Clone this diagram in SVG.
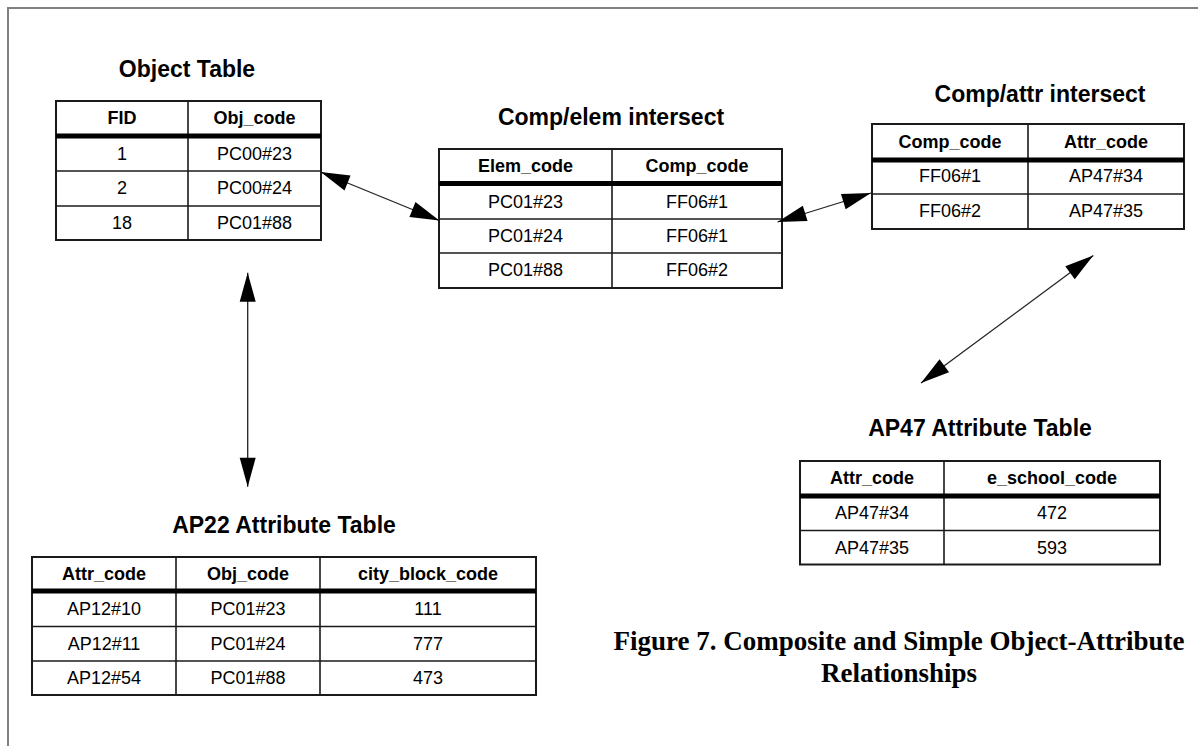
<svg xmlns="http://www.w3.org/2000/svg" width="1198" height="746" viewBox="0 0 1198 746">
<defs>
<style>
.frame{stroke:#808080;stroke-width:2;fill:none}
.tb{fill:#fff;stroke:#1a1a1a;stroke-width:2}
.ln{stroke:#1a1a1a;stroke-width:1.6}
.thick{stroke:#000;stroke-width:5}
.title{font-family:"Liberation Sans",Arial,sans-serif;font-weight:bold;font-size:23px;text-anchor:middle;fill:#000}
.th{font-family:"Liberation Sans",Arial,sans-serif;font-weight:bold;font-size:18px;text-anchor:middle;fill:#000}
.td{font-family:"Liberation Sans",Arial,sans-serif;font-size:18px;text-anchor:middle;fill:#000}
.cap{font-family:"Liberation Serif","Times New Roman",serif;font-weight:bold;font-size:27px;text-anchor:middle;fill:#000}
.conn{stroke:#222;stroke-width:1.3;fill:none;marker-start:url(#ah);marker-end:url(#ah)}
</style>
<marker id="ah" markerUnits="userSpaceOnUse" viewBox="0 0 30 16" markerWidth="30" markerHeight="16" refX="29" refY="8" orient="auto-start-reverse" overflow="visible">
<path d="M0,0 L29,8 L0,16 Z" fill="#000"/>
</marker>
</defs>
<rect width="1198" height="746" fill="#fff"/>
<path class="frame" d="M8,746 V8 H1198"/>

<g id="object-table">
<text class="title" x="187" y="77">Object Table</text>
<rect class="tb" x="56" y="101" width="265" height="139"/>
<line class="ln" x1="188" y1="101" x2="188" y2="240"/>
<line class="ln" x1="56" y1="171" x2="321" y2="171"/>
<line class="ln" x1="56" y1="206" x2="321" y2="206"/>
<line class="thick" x1="56" y1="136" x2="321" y2="136"/>
<text class="th" x="122" y="124">FID</text>
<text class="th" x="254.5" y="124">Obj_code</text>
<text class="td" x="122" y="159.5">1</text>
<text class="td" x="254.5" y="159.5">PC00#23</text>
<text class="td" x="122" y="194">2</text>
<text class="td" x="254.5" y="194">PC00#24</text>
<text class="td" x="122" y="228.5">18</text>
<text class="td" x="254.5" y="228.5">PC01#88</text>
</g>

<g id="comp-elem-intersect">
<text class="title" x="611" y="125">Comp/elem intersect</text>
<rect class="tb" x="439" y="149" width="343" height="139"/>
<line class="ln" x1="612" y1="149" x2="612" y2="288"/>
<line class="ln" x1="439" y1="219" x2="782" y2="219"/>
<line class="ln" x1="439" y1="253" x2="782" y2="253"/>
<line class="thick" x1="439" y1="183.5" x2="782" y2="183.5"/>
<text class="th" x="525.5" y="172">Elem_code</text>
<text class="th" x="697" y="172">Comp_code</text>
<text class="td" x="525.5" y="207.5">PC01#23</text>
<text class="td" x="697" y="207.5">FF06#1</text>
<text class="td" x="525.5" y="241.5">PC01#24</text>
<text class="td" x="697" y="241.5">FF06#1</text>
<text class="td" x="525.5" y="275.5">PC01#88</text>
<text class="td" x="697" y="275.5">FF06#2</text>
</g>

<g id="comp-attr-intersect">
<text class="title" x="1040" y="101.5">Comp/attr intersect</text>
<rect class="tb" x="872" y="124" width="312" height="105"/>
<line class="ln" x1="1028" y1="124" x2="1028" y2="229"/>
<line class="ln" x1="872" y1="194" x2="1184" y2="194"/>
<line class="thick" x1="872" y1="160" x2="1184" y2="160"/>
<text class="th" x="950" y="147.5">Comp_code</text>
<text class="th" x="1106" y="147.5">Attr_code</text>
<text class="td" x="950" y="182">FF06#1</text>
<text class="td" x="1106" y="182">AP47#34</text>
<text class="td" x="950" y="216.5">FF06#2</text>
<text class="td" x="1106" y="216.5">AP47#35</text>
</g>

<g id="ap47-attribute-table">
<text class="title" x="980" y="436">AP47 Attribute Table</text>
<rect class="tb" x="800" y="461" width="360" height="103.5"/>
<line class="ln" x1="944" y1="461" x2="944" y2="564.5"/>
<line class="ln" x1="800" y1="530.5" x2="1160" y2="530.5"/>
<line class="thick" x1="800" y1="496" x2="1160" y2="496"/>
<text class="th" x="872" y="483.5">Attr_code</text>
<text class="th" x="1052" y="483.5">e_school_code</text>
<text class="td" x="872" y="519">AP47#34</text>
<text class="td" x="1052" y="519">472</text>
<text class="td" x="872" y="554">AP47#35</text>
<text class="td" x="1052" y="554">593</text>
</g>

<g id="ap22-attribute-table">
<text class="title" x="284" y="533">AP22 Attribute Table</text>
<rect class="tb" x="32" y="557" width="504" height="138"/>
<line class="ln" x1="176" y1="557" x2="176" y2="695"/>
<line class="ln" x1="320" y1="557" x2="320" y2="695"/>
<line class="ln" x1="32" y1="626.5" x2="536" y2="626.5"/>
<line class="ln" x1="32" y1="661" x2="536" y2="661"/>
<line class="thick" x1="32" y1="591" x2="536" y2="591"/>
<text class="th" x="104" y="580">Attr_code</text>
<text class="th" x="248" y="580">Obj_code</text>
<text class="th" x="428" y="580">city_block_code</text>
<text class="td" x="104" y="615">AP12#10</text>
<text class="td" x="248" y="615">PC01#23</text>
<text class="td" x="428" y="615">111</text>
<text class="td" x="104" y="649.5">AP12#11</text>
<text class="td" x="248" y="649.5">PC01#24</text>
<text class="td" x="428" y="649.5">777</text>
<text class="td" x="104" y="683.5">AP12#54</text>
<text class="td" x="248" y="683.5">PC01#88</text>
<text class="td" x="428" y="683.5">473</text>
</g>

<g id="caption">
<text class="cap" x="899" y="650">Figure 7. Composite and Simple Object-Attribute</text>
<text class="cap" x="899" y="682">Relationships</text>
</g>

<g id="connectors">
<path class="conn" d="M320.7,172 L439.3,220.5"/>
<path class="conn" d="M247.7,272.7 L247.7,486.7"/>
<path class="conn" d="M777.5,222 L871,193"/>
<path class="conn" d="M1093.3,255.5 L921,383"/>
</g>
</svg>
